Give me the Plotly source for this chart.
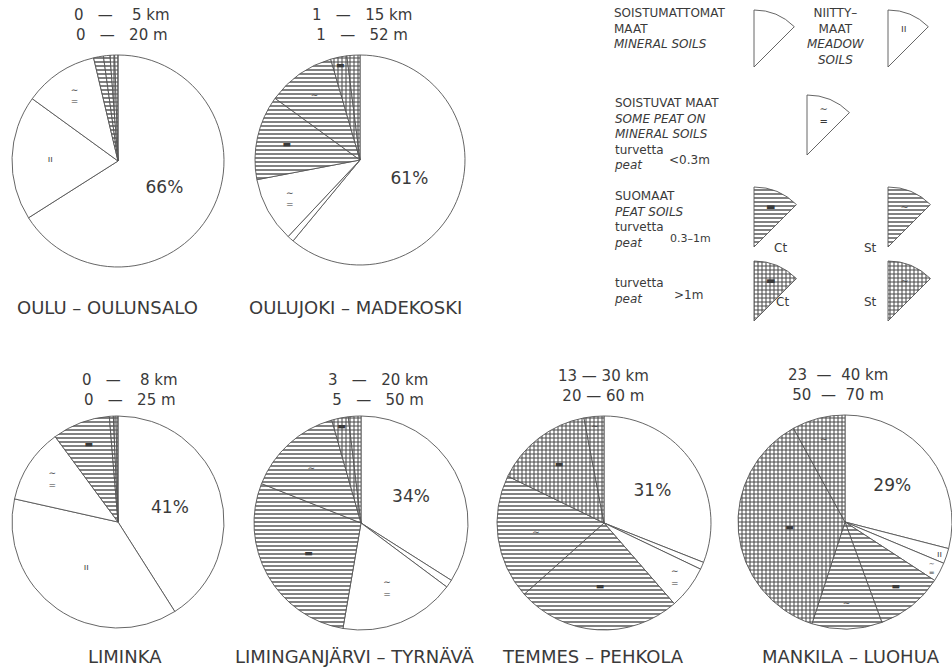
import plotly.graph_objects as go

W, H = 952, 667

# ---------------- data ----------------
categories = ["Mineral soils", "Meadow soils", "Some peat (<0.3 m)",
              "Peat 0.3-1 m Ct", "Peat 0.3-1 m St", "Peat >1 m Ct", "Peat >1 m St"]

names = ["OULU – OULUNSALO", "OULUJOKI – MADEKOSKI", "LIMINKA",
         "LIMINGANJÄRVI – TYRNÄVÄ", "TEMMES – PEHKOLA", "MANKILA – LUOHUA"]
dist_km = ["0   —    5 km", "1   —   15 km", "0   —    8 km", "3   —   20 km", "13 — 30 km", "23  —  40 km"]
elev_m = ["0   —   20 m", "1   —   52 m", "0   —   25 m", "5   —   50 m", "20 — 60 m", "50  —  70 m"]

oulu_oulunsalo = [66, 19, 11.3, 1.5, 1.0, 0.7, 0.5]
oulujoki_madekoski = [61, 1, 10, 13, 10.5, 2.5, 2]
liminka = [41, 37.5, 11.4, 8.8, 0.6, 0.4, 0.3]
liminganjarvi_tyrnava = [34, 1.2, 17.5, 28.3, 14.6, 2.5, 1.9]
temmes_pehkola = [31, 1.1, 6.5, 24.8, 18.8, 14.8, 3.0]
mankila_luohua = [29, 2.3, 2.9, 10.2, 10.6, 37, 8]

legend_sector = [1, 7]   # one eighth of a circle, as drawn in the key

# ---------------- styles ----------------
INK = "#3a3a3a"
FONT = "DejaVu Sans"
patterns = ["", "", "", "-", "-", "+", "+"]
solid = [0.3, 0.3, 0.3, 0.35, 0.35, 0.45, 0.45]
symbols = [None, "ıı", "∼<br>=", "▬", "∼", "▬", "∼"]

# layout (pixel centres / radii of the pies)
geom = [(118, 161, 106), (360, 160, 105), (118, 522, 106),
        (361, 523, 107), (604, 523, 107), (845, 522, 107)]
title_pos = [(122, 25), (362, 25), (130, 390), (378, 390), (603, 386), (838, 385)]
name_pos = [(107, 307), (355, 307), (125, 656), (355, 656), (593, 656), (851, 656)]


def dom(cx, cy, r):
    return dict(x=[(cx - r) / W, (cx + r) / W], y=[1 - (cy + r) / H, 1 - (cy - r) / H])


fig = go.Figure()
series = [oulu_oulunsalo, oulujoki_madekoski, liminka,
          liminganjarvi_tyrnava, temmes_pehkola, mankila_luohua]
for vals, (cx, cy, r) in zip(series, geom):
    texts, sizes = [], []
    for i, v in enumerate(vals):
        if i == 0:
            texts.append(f"{round(v)}%")
            sizes.append(17)
        elif v >= 2.2:
            texts.append(symbols[i])
            sizes.append(9)
        else:
            texts.append("")
            sizes.append(8)
    fig.add_trace(go.Pie(
        labels=categories, values=vals, sort=False, direction="clockwise", rotation=0,
        domain=dom(cx, cy, r), text=texts, textinfo="text", textposition="inside",
        insidetextorientation="horizontal",
        textfont=dict(family=FONT, size=sizes, color=INK),
        marker=dict(colors=["white"] * 7,
                    line=dict(color="#555", width=0.9),
                    pattern=dict(shape=patterns, fgcolor="#4a4a4a", bgcolor="white",
                                 size=4, solidity=solid)),
        showlegend=False, hoverinfo="label+percent"))

# ---------------- key (sector glyphs) ----------------
key = [  # apex x, apex y, radius, category index, symbol
    (754, 67, 57, 0, ""),
    (888, 67, 57, 1, "ıı"),
    (807, 155, 60, 2, "∼<br>="),
    (754, 247, 60, 3, "▬"),
    (888, 247, 60, 4, "∼"),
    (754, 321, 60, 5, "▬"),
    (888, 321, 60, 6, "∼"),
]
for ax, ay, r, ci, sym in key:
    fig.add_trace(go.Pie(
        labels=[categories[ci], "rest"], values=legend_sector, sort=False,
        direction="clockwise", rotation=0, domain=dom(ax, ay, r),
        text=[sym, ""], textinfo="text", textposition="inside",
        insidetextorientation="horizontal",
        textfont=dict(family=FONT, size=10, color=INK),
        marker=dict(colors=["white", "rgba(0,0,0,0)"],
                    line=dict(color=["#555", "rgba(0,0,0,0)"], width=[0.9, 0]),
                    pattern=dict(shape=[patterns[ci], ""], fgcolor="#4a4a4a",
                                 bgcolor=["white", "rgba(0,0,0,0)"], size=4,
                                 solidity=[solid[ci], 0.3])),
        showlegend=False, hoverinfo="label"))

# ---------------- text ----------------
ann = []


def txt(x, y, s, size, anchor="center", yanchor="middle"):
    ann.append(dict(x=x / W, y=1 - y / H, xref="paper", yref="paper", text=s,
                    showarrow=False, xanchor=anchor, yanchor=yanchor, align=anchor if anchor != "center" else "center",
                    font=dict(family=FONT, size=size, color=INK)))


for (x, y), d, e in zip(title_pos, dist_km, elev_m):
    txt(x, y, f"{d}<br>{e}", 15)
for (x, y), n in zip(name_pos, names):
    txt(x, y, n, 18)

L = 612
txt(L, 4, "SOISTUMATTOMAT<br>MAAT<br><i>MINERAL SOILS</i>", 12, "left", "top")
txt(836, 4, "NIITTY–<br>MAAT<br><i>MEADOW</i><br><i>SOILS</i>", 12, "center", "top")
txt(L, 94, "SOISTUVAT MAAT<br><i>SOME PEAT ON</i><br><i>MINERAL SOILS</i><br>turvetta<br><i>peat</i>",
    12, "left", "top")
txt(667, 160, "<0.3m", 12, "left")
txt(L, 187, "SUOMAAT<br><i>PEAT SOILS</i><br>turvetta<br><i>peat</i>", 12, "left", "top")
txt(668, 238, "0.3–1m", 11, "left")
txt(780, 248, "Ct", 12)
txt(870, 248, "St", 12)
txt(L, 274, "turvetta<br><i>peat</i>", 12, "left", "top")
txt(672, 295, ">1m", 12, "left")
txt(782, 302, "Ct", 12)
txt(870, 302, "St", 12)

fig.update_layout(width=W, height=H, margin=dict(l=0, r=0, t=0, b=0),
                  paper_bgcolor="white", plot_bgcolor="white",
                  annotations=ann, showlegend=False)

fig.write_html("out.html")
